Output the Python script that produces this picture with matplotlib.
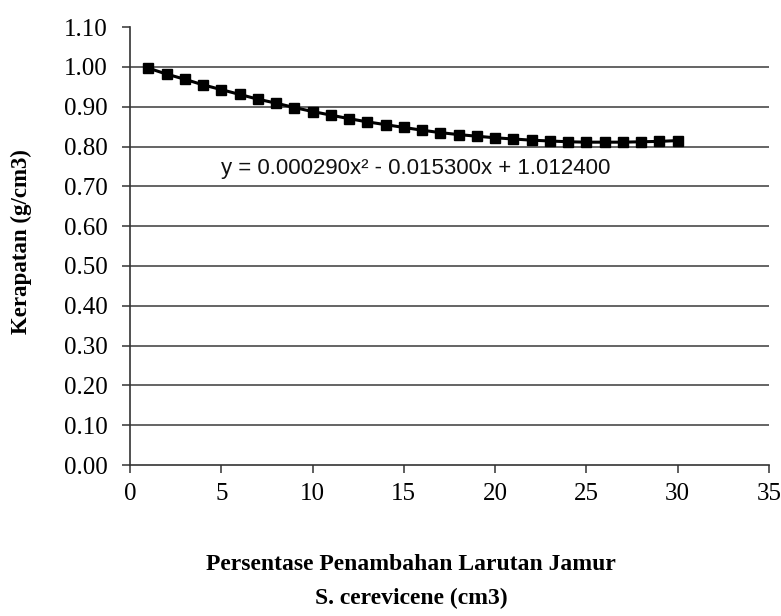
import matplotlib
matplotlib.use("Agg")
import matplotlib.pyplot as plt

x_values = list(range(1, 31))
density = [0.997, 0.982, 0.969, 0.955, 0.943, 0.931, 0.919, 0.909, 0.898, 0.888,
           0.879, 0.870, 0.862, 0.855, 0.848, 0.841, 0.835, 0.830, 0.826, 0.822,
           0.819, 0.816, 0.814, 0.812, 0.811, 0.811, 0.811, 0.812, 0.813, 0.815]
y_ticks = [0.0, 0.1, 0.2, 0.3, 0.4, 0.5, 0.6, 0.7, 0.8, 0.9, 1.0, 1.1]
x_ticks = [0, 5, 10, 15, 20, 25, 30, 35]
equation = "y = 0.000290x² - 0.015300x + 1.012400"
x_label = "Persentase Penambahan Larutan Jamur\nS. cerevicene (cm3)"
y_label = "Kerapatan (g/cm3)"

fig = plt.figure(figsize=(7.81, 6.16), dpi=100)
ax = fig.add_axes([0.1665, 0.245, 0.818, 0.711])

for t in y_ticks[1:-1]:
    ax.axhline(t, color="#3a3a3a", lw=1.1, zorder=1)

ax.plot(x_values, density, color="black", lw=2.2, marker="s", ms=6.5,
        mfc="black", mec="black", zorder=3)

ax.text(5.0, 0.745, equation, fontsize=16, family="Liberation Sans",
        va="center", ha="left", color="#111111")

ax.set_xlim(0, 35)
ax.set_ylim(0, 1.10)
ax.set_xticks(x_ticks)
ax.set_yticks(y_ticks)
ax.set_yticklabels([f"{v:.2f}" for v in y_ticks])
ax.set_xticklabels([str(v) for v in x_ticks])

for s in ["top", "right"]:
    ax.spines[s].set_visible(False)
for s in ["left", "bottom"]:
    ax.spines[s].set_color("#333333")
    ax.spines[s].set_linewidth(1.2)

ax.tick_params(axis="both", direction="out", length=6, width=1.1,
               color="#333333", labelsize=18)
ax.tick_params(axis="x", pad=7)
ax.tick_params(axis="y", pad=10)
for lab in ax.get_xticklabels() + ax.get_yticklabels():
    lab.set_family("Liberation Serif")

ax.set_xlabel(x_label, fontsize=17, family="Liberation Serif",
              fontweight="bold", linespacing=1.8)
ax.xaxis.set_label_coords(0.44, -0.203)
ax.set_ylabel(y_label, fontsize=16.5, family="Liberation Serif",
              fontweight="bold")
ax.yaxis.set_label_coords(-0.154, 0.51)

fig.savefig("out.png", dpi=100)
